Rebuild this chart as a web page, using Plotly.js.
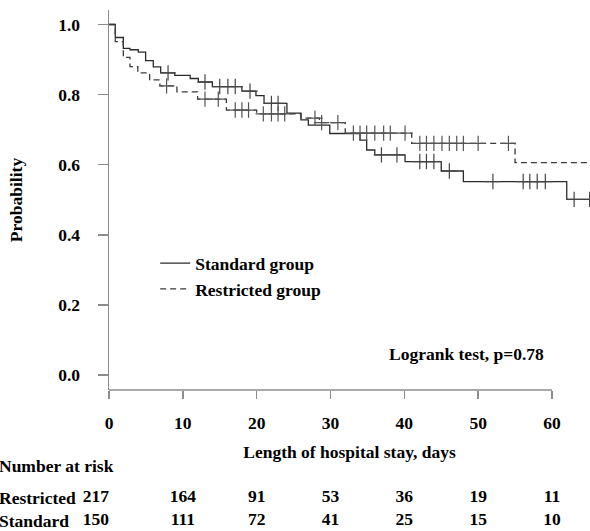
<!DOCTYPE html>
<html><head><meta charset="utf-8">
<script src="https://cdn.plot.ly/plotly-3.0.1.min.js"></script>
<style>html,body{margin:0;padding:0;background:#fff}#chart{width:590px;height:531px}</style>
</head><body><div id="chart"></div>
<script>
// ---- data ----
const standardTimes = [0, 0.85, 1.94, 2.84, 3.97, 4.96, 6.0, 7.0, 8.9, 11.0, 12.1, 14.0, 18.0, 19.9, 21.0, 24.1, 26.0, 27.0, 29.9, 34.0, 34.9, 36.0, 40.1, 45.0, 48.0, 62.0, 65.2];
const standardSurv  = [1.0, 0.963, 0.932, 0.928, 0.921, 0.897, 0.879, 0.862, 0.855, 0.846, 0.836, 0.823, 0.810, 0.797, 0.775, 0.747, 0.728, 0.713, 0.689, 0.670, 0.642, 0.628, 0.609, 0.582, 0.552, 0.501, 0.501];
const standardCensor = [8.0, 13.0, 15.0, 16.1, 17.1, 19.1, 22.0, 22.9, 36.9, 39.0, 42.1, 43.0, 44.0, 46.1, 52.0, 56.1, 57.0, 58.0, 59.1, 63.0, 65.1];

const restrictedTimes = [0, 0.85, 1.94, 2.84, 3.9, 5.5, 6.9, 9.2, 12.0, 15.9, 20.0, 26.0, 28.5, 32.0, 41.0, 55.0, 65.2];
const restrictedSurv  = [1.0, 0.951, 0.906, 0.880, 0.862, 0.842, 0.825, 0.808, 0.787, 0.756, 0.745, 0.733, 0.720, 0.690, 0.661, 0.606, 0.606];
const restrictedCensor = [7.8, 13.0, 14.8, 17.1, 18.0, 18.9, 20.9, 22.0, 22.9, 23.8, 27.9, 28.8, 31.0, 33.1, 34.0, 34.9, 36.0, 37.2, 38.1, 40.1, 42.1, 43.0, 44.0, 45.1, 46.1, 47.1, 48.0, 50.0, 54.1];

const riskTimes = [0, 10, 20, 30, 40, 50, 60];
const riskRestricted = [217, 164, 91, 53, 36, 19, 11];
const riskStandard   = [150, 111, 72, 41, 25, 15, 10];
const rowLabels = ['Restricted', 'Standard'];
const groupNames = ['Standard group', 'Restricted group'];
const xTicks = [0, 10, 20, 30, 40, 50, 60];
const yTicks = [0, 0.2, 0.4, 0.6, 0.8, 1.0];
const xTitle = 'Length of hospital stay, days';
const yTitle = 'Probability';
const testText = 'Logrank test, p=0.78';
const riskTitle = 'Number at risk';

// ---- helpers ----
function survAt(times, surv, t) {
  let v = surv[0];
  for (let i = 0; i < times.length; i++) { if (times[i] <= t) v = surv[i]; }
  return v;
}
const FONT = 'Liberation Serif';
const AX = '#8c8c8c';
const TXT = {family: FONT, size: 17.5, color: '#000', weight: 'bold'};

const traces = [
  {x: standardTimes, y: standardSurv, type: 'scatter', mode: 'lines', name: groupNames[0],
   line: {shape: 'hv', color: '#2b2b2b', width: 1.3}},
  {x: restrictedTimes, y: restrictedSurv, type: 'scatter', mode: 'lines', name: groupNames[1],
   line: {shape: 'hv', color: '#3a3a3a', width: 1.3, dash: '6px,4px'}},
  {x: standardCensor, y: standardCensor.map(t => survAt(standardTimes, standardSurv, t)),
   type: 'scatter', mode: 'markers', showlegend: false, hoverinfo: 'skip',
   marker: {symbol: 'cross-thin-open', size: 11, color: '#444', line: {color: '#444', width: 1.2}}},
  {x: restrictedCensor, y: restrictedCensor.map(t => survAt(restrictedTimes, restrictedSurv, t)),
   type: 'scatter', mode: 'markers', showlegend: false, hoverinfo: 'skip',
   marker: {symbol: 'cross-thin-open', size: 11, color: '#555', line: {color: '#555', width: 1.2}}},
  {x: riskTimes, y: riskTimes.map(() => 1), text: riskRestricted.map(String), type: 'scatter', mode: 'text',
   xaxis: 'x', yaxis: 'y2', showlegend: false, cliponaxis: false, hoverinfo: 'skip',
   textposition: riskTimes.map((t, i) => i === 0 ? 'middle left' : 'middle center'),
   textfont: TXT},
  {x: riskTimes, y: riskTimes.map(() => 0), text: riskStandard.map(String), type: 'scatter', mode: 'text',
   xaxis: 'x', yaxis: 'y2', showlegend: false, cliponaxis: false, hoverinfo: 'skip',
   textposition: riskTimes.map((t, i) => i === 0 ? 'middle left' : 'middle center'),
   textfont: TXT}
];

const layout = {
  width: 590, height: 531,
  margin: {l: 109, r: 0, t: 10, b: 0},
  paper_bgcolor: '#fff', plot_bgcolor: '#fff',
  font: TXT,
  showlegend: true,
  legend: {x: 0.096, y: 0.5485, xanchor: 'left', yanchor: 'top', bgcolor: 'rgba(0,0,0,0)', font: TXT},
  xaxis: {range: [0, 65.15], anchor: 'y', showgrid: false, zeroline: false, showline: false,
          tickvals: xTicks, ticks: 'outside', ticklen: 8, tickwidth: 1.5, tickcolor: AX,
          ticklabelstandoff: 9, tickfont: TXT,
          title: {text: xTitle, standoff: 13, font: TXT}},
  yaxis: {domain: [0.27063, 1], range: [-0.0428, 1.0414], anchor: 'x', showgrid: false, zeroline: false,
          showline: true, linecolor: AX, linewidth: 1.5,
          tickvals: yTicks, tickformat: '.1f', ticks: 'outside', ticklen: 10, tickwidth: 1.5, tickcolor: AX,
          ticklabelstandoff: 14, tickfont: TXT,
          title: {text: yTitle, standoff: 31, font: TXT}},
  yaxis2: {domain: [0, 0.1], range: [-0.435, 1.83], anchor: 'x', visible: false, fixedrange: true},
  shapes: [
    {type: 'line', xref: 'x', yref: 'y domain', x0: xTicks[0], x1: xTicks[xTicks.length - 1], y0: 0, y1: 0,
     line: {color: AX, width: 1.5}}
  ],
  annotations: [
    {text: testText, xref: 'paper', yref: 'paper', x: 0.578, y: 0.3397, xanchor: 'left', yanchor: 'middle',
     showarrow: false, font: TXT},
    {text: riskTitle, xref: 'paper', yref: 'paper', x: -0.2328, y: 0.1248, xanchor: 'left', yanchor: 'middle',
     showarrow: false, font: TXT},
    {text: rowLabels[0], xref: 'paper', yref: 'y2', x: -0.2328, y: 1, xanchor: 'left', yanchor: 'middle',
     showarrow: false, font: TXT},
    {text: rowLabels[1], xref: 'paper', yref: 'y2', x: -0.2328, y: 0, xanchor: 'left', yanchor: 'middle',
     showarrow: false, font: TXT}
  ]
};

Plotly.newPlot('chart', traces, layout, {staticPlot: true, displayModeBar: false});
</script>
</body></html>
